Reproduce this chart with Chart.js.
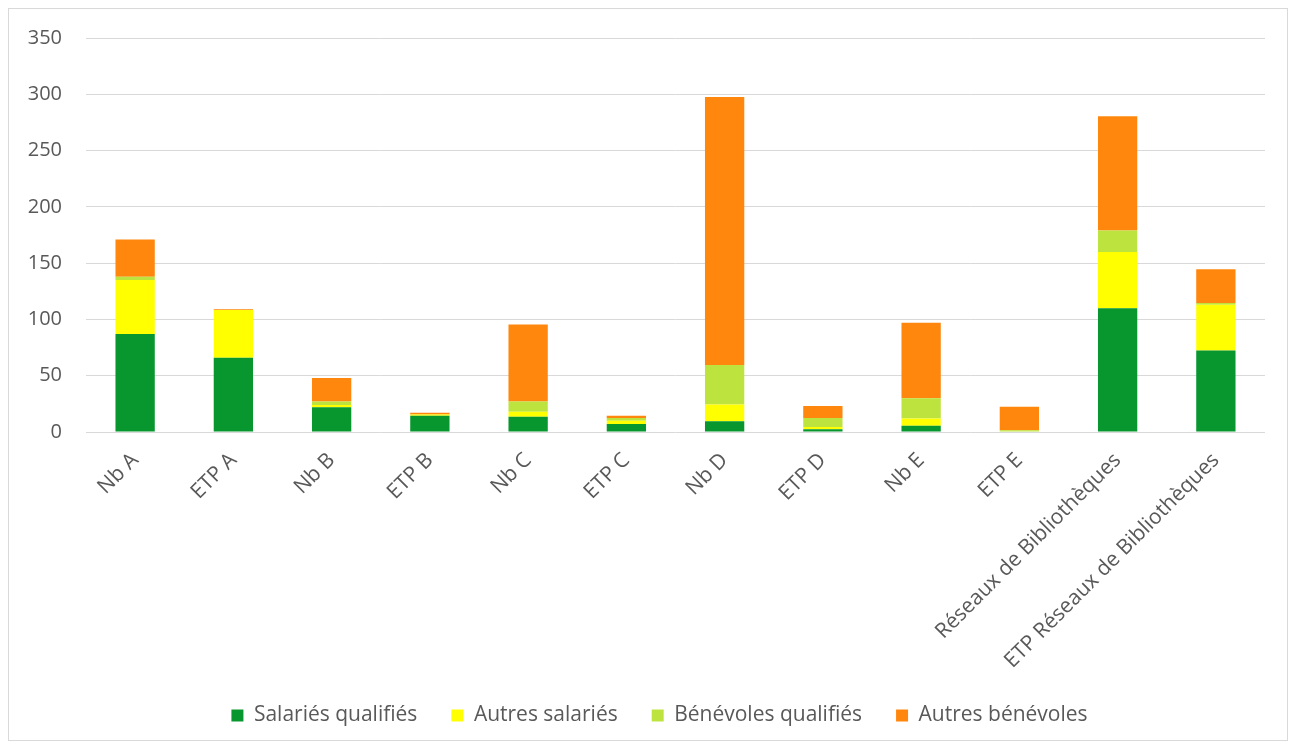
<!DOCTYPE html>
<html><head><meta charset="utf-8">
<script src="https://cdn.jsdelivr.net/npm/chart.js@4/dist/chart.umd.min.js"></script>
<style>
html,body{margin:0;padding:0;background:#fff;}
#wrap{position:absolute;left:0;top:0;width:1295px;height:747px;}
#frame{position:absolute;left:8px;top:8px;width:1278px;height:731px;border:1px solid #d9d9d9;pointer-events:none;}
</style></head>
<body>
<div id="wrap"><canvas id="c" width="1295" height="747"></canvas></div>
<div id="frame"></div>
<script>
const categories = ["Nb A","ETP A","Nb B","ETP B","Nb C","ETP C","Nb D","ETP D","Nb E","ETP E","Réseaux de Bibliothèques","ETP Réseaux de Bibliothèques"];
const salariesQualifies  = [87, 66, 22, 14.5, 13.5, 7, 9.5, 2.5, 5.5, 0, 110, 72.5];
const autresSalaries     = [48, 42.3, 2, 1, 4.5, 3, 15, 2, 6.5, 0, 50, 40.5];
const benevolesQualifies = [3, 0, 3, 0, 9, 2.5, 35, 8, 18, 1.5, 19, 1.5];
const autresBenevoles    = [33, 0.8, 21, 1.5, 68.5, 2, 238, 10.5, 67, 21, 101.5, 30];
const seriesNames = ["Salariés qualifiés","Autres salariés","Bénévoles qualifiés","Autres bénévoles"];
const seriesColors = ["#08972f","#ffff00","#bde43e","#ff870e"];
const yTicks = [0,50,100,150,200,250,300,350];

const FONT = "'Open Sans', sans-serif";
const FS = 21;
const series = [salariesQualifies, autresSalaries, benevolesQualifies, autresBenevoles];
const legendShift = {
  id: 'legendShift',
  afterLayout(chart) {
    const lg = chart.legend;
    if (lg) { lg.left += 17; lg.right += 17; }
  }
};
new Chart(document.getElementById('c'), {
  type: 'bar',
  data: {
    labels: categories,
    datasets: series.map((d,i)=>({
      label: seriesNames[i], data: d, backgroundColor: seriesColors[i],
      borderWidth: 0, categoryPercentage: 1.0, barPercentage: 0.4
    }))
  },
  plugins: [legendShift],
  options: {
    responsive: false, animation: false,
    layout: {padding: {top: 38, right: 30, left: 20, bottom: 11}},
    plugins: {
      tooltip: {enabled: false},
      legend: {
        position: 'bottom',
        labels: {boxWidth: 12, boxHeight: 12, padding: 34, color: '#595959', font: {family: FONT, size: FS}}
      }
    },
    scales: {
      x: {
        stacked: true,
        grid: {display: false, drawTicks: false},
        border: {display: false},
        ticks: {color: '#595959', font: {family: FONT, size: FS}, maxRotation: 45, minRotation: 45, padding: 16, autoSkip: false},
        afterFit: s => { s.height = 239; }
      },
      y: {
        stacked: true, min: 0, max: 350,
        afterBuildTicks: s => { s.ticks = yTicks.map(v=>({value:v})); },
        grid: {color: '#d9d9d9', lineWidth: 1, drawTicks: false},
        border: {display: false},
        ticks: {color: '#595959', font: {family: FONT, size: 20}, padding: 24},
        afterFit: s => { s.width = 66; }
      }
    }
  }
});
</script>
</body></html>
